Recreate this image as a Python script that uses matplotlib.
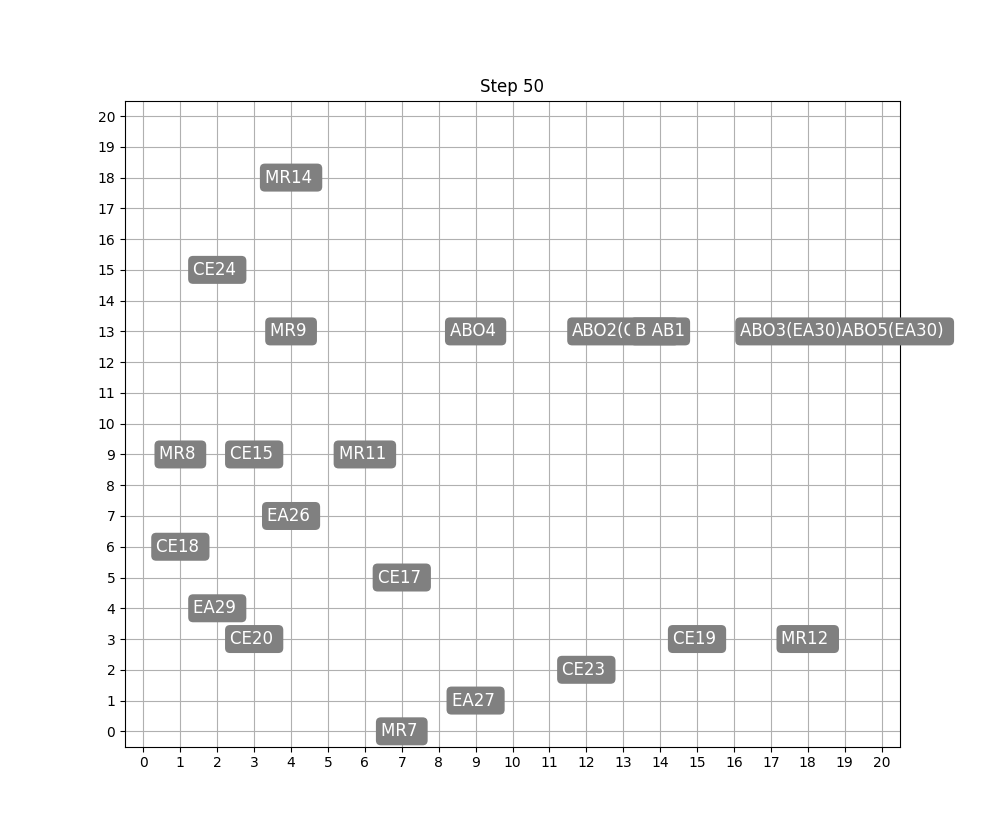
import matplotlib
matplotlib.use('Agg')
import matplotlib.pyplot as plt

# agent labels and their grid positions at this step
labels = ['MR14', 'CE24', 'MR9', 'ABO4', 'ABO2(CE16)', 'B AB1',
          'ABO3(EA30)ABO5(EA30)', 'MR8', 'CE15', 'MR11', 'EA26', 'CE18',
          'CE17', 'EA29', 'CE20', 'CE19', 'MR12', 'CE23', 'EA27', 'MR7']
xs = [4, 2, 4, 9, 13, 14, 19, 1, 3, 6, 4, 1, 7, 2, 3, 15, 18, 12, 9, 7]
ys = [18, 15, 13, 13, 13, 13, 13, 9, 9, 9, 7, 6, 5, 4, 3, 3, 3, 2, 1, 0]
grid_size = 20
step = 50

fig, ax = plt.subplots(figsize=(10, 8.39), dpi=100)

for name, x, y in zip(labels, xs, ys):
    # most labels carry a trailing space
    txt = name if name in ('B AB1', 'ABO2(CE16)') else name + ' '
    ax.text(x, y, txt, ha='center', va='center', fontsize=12, color='white',
            bbox=dict(boxstyle='round,pad=0.3', facecolor='gray', edgecolor='none'))

ax.set_xlim(-0.5, grid_size + 0.5)
ax.set_ylim(-0.5, grid_size + 0.5)
ax.set_xticks(range(grid_size + 1))
ax.set_yticks(range(grid_size + 1))
ax.grid(True)
ax.set_title('Step {}'.format(step))

plt.savefig('out.png')
